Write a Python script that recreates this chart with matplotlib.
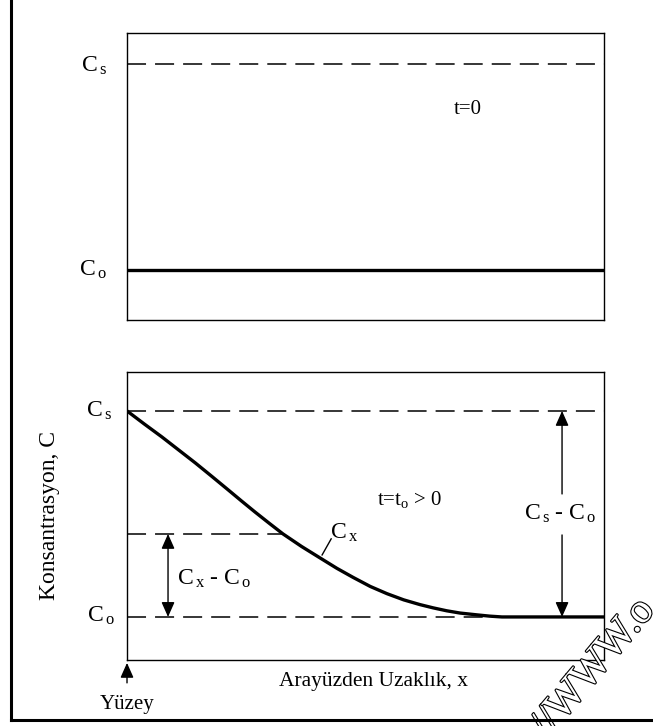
import matplotlib.pyplot as plt
from matplotlib.lines import Line2D
import matplotlib.patheffects as pe

plt.rcParams['font.family'] = 'Liberation Serif'
plt.rcParams['mathtext.fontset'] = 'custom'
plt.rcParams['mathtext.rm'] = 'Liberation Serif'
plt.rcParams['mathtext.it'] = 'Liberation Serif'
plt.rcParams['lines.scale_dashes'] = False

# concentration levels (Co = 0, Cs = 1)
cs_level = 1.0
co_level = 0.0
cx_level = 0.403
x_cx = 0.327

# profile at t = to > 0, distance from the surface vs concentration
x_prof = [0.0, 0.036, 0.073, 0.108, 0.143, 0.178, 0.212, 0.240, 0.268,
          0.298, 0.327, 0.366, 0.405, 0.440, 0.474, 0.510, 0.545, 0.580,
          0.614, 0.642, 0.670, 0.698, 0.734, 0.760, 0.786, 1.0]
c_prof = [1.0, 0.937, 0.874, 0.811, 0.748, 0.682, 0.617, 0.563, 0.510,
          0.455, 0.403, 0.342, 0.286, 0.236, 0.192, 0.148, 0.113, 0.083,
          0.060, 0.044, 0.030, 0.019, 0.010, 0.004, 0.0, 0.0]

DASH = (13.7, 6.5)
FS = 17

fig = plt.figure(figsize=(6.53, 7.26), dpi=100)
ax1 = fig.add_axes([0.1945, 0.5592, 0.7305, 0.3953])
ax2 = fig.add_axes([0.1945, 0.0909, 0.7305, 0.3967])

for ax in (ax1, ax2):
    ax.set_xlim(0, 1)
    ax.set_xticks([])
    ax.set_yticks([])
    for s in ax.spines.values():
        s.set_linewidth(1.0)

# --- t = 0 ---
ax1.set_ylim(-0.243, 1.150)
ax1.plot([0, 1], [cs_level, cs_level], color='black', lw=1.1, dashes=DASH)
ax1.plot([0, 1], [co_level, co_level], color='black', lw=2.4)
ax1.text(-0.042, 0.961, 'C$_{\\,\\mathrm{s}}$', ha='right', va='baseline', fontsize=FS)
ax1.text(-0.042, -0.03, 'C$_{\\,\\mathrm{o}}$', ha='right', va='baseline', fontsize=FS)
ax1.text(0.715, 0.777, 't=0', ha='center', va='center', fontsize=15)

# --- t = to > 0 ---
ax2.set_ylim(-0.209, 1.189)
ax2.plot([0, 1], [cs_level, cs_level], color='black', lw=1.1, dashes=DASH)
ax2.plot([0, 1], [co_level, co_level], color='black', lw=1.1, dashes=DASH)
ax2.plot([0, x_cx], [cx_level, cx_level], color='black', lw=1.1, dashes=DASH)
ax2.plot(x_prof, c_prof, color='black', lw=2.4, solid_capstyle='butt',
         solid_joinstyle='round')

ax2.text(-0.031, 0.971, 'C$_{\\,\\mathrm{s}}$', ha='right', va='baseline', fontsize=FS)
ax2.text(-0.025, -0.024, 'C$_{\\,\\mathrm{o}}$', ha='right', va='baseline', fontsize=FS)

arrow = dict(color='black', lw=1.0, shrinkA=0, shrinkB=0, mutation_scale=10)
head = ',head_length=0.9,head_width=0.4'
ax2.annotate('', xy=(0.086, cx_level), xytext=(0.086, co_level),
             arrowprops=dict(arrowstyle='<|-|>' + head, **arrow))
ax2.text(0.105, 0.155, 'C$_{\\,\\mathrm{x}}$ - C$_{\\,\\mathrm{o}}$', ha='left',
         va='baseline', fontsize=FS)

ax2.annotate('', xy=(0.912, cs_level), xytext=(0.912, 0.597),
             arrowprops=dict(arrowstyle='-|>' + head, **arrow))
ax2.annotate('', xy=(0.912, co_level), xytext=(0.912, 0.398),
             arrowprops=dict(arrowstyle='-|>' + head, **arrow))
ax2.text(0.908, 0.47, 'C$_{\\,\\mathrm{s}}$ - C$_{\\,\\mathrm{o}}$', ha='center',
         va='baseline', fontsize=FS)

ax2.plot([0.409, 0.428], [0.301, 0.379], color='black', lw=1.0)
ax2.text(0.426, 0.38, 'C$_{\\,\\mathrm{x}}$', ha='left', va='baseline', fontsize=FS)
ax2.text(0.593, 0.545, 't=t$_\\mathrm{o}$ > 0', ha='center', va='baseline', fontsize=15)

ax2.text(0.517, -0.335, 'Arayüzden Uzaklık, x', ha='center', va='baseline', fontsize=15.5)
ax2.annotate('', xy=(0, -0.223), xytext=(0, -0.320), annotation_clip=False,
             arrowprops=dict(arrowstyle='-|>' + head, **arrow))
ax2.text(0.0, -0.447, 'Yüzey', ha='center', va='baseline', fontsize=15)

fig.text(50 / 653, 1 - 515 / 726, 'Konsantrasyon, C', rotation=90,
         ha='center', va='center', fontsize=17)

# outer frame
fig.add_artist(Line2D([11 / 653, 11 / 653], [1, 6 / 726], lw=2.2, color='black',
                      transform=fig.transFigure))
fig.add_artist(Line2D([11 / 653, 1], [6 / 726, 6 / 726], lw=2.2, color='black',
                      transform=fig.transFigure))

# watermark
wm = dict(rotation=50, rotation_mode='anchor', fontsize=30, color='white',
          xycoords='figure pixels', va='baseline', zorder=10,
          path_effects=[pe.withStroke(linewidth=1.6, foreground='black')])
ax2.annotate('http://', xy=(562, 4), ha='right', **wm)
ax2.annotate('WWW.o', xy=(562, 4), ha='left', **wm)

fig.savefig('out.png', dpi=100)
